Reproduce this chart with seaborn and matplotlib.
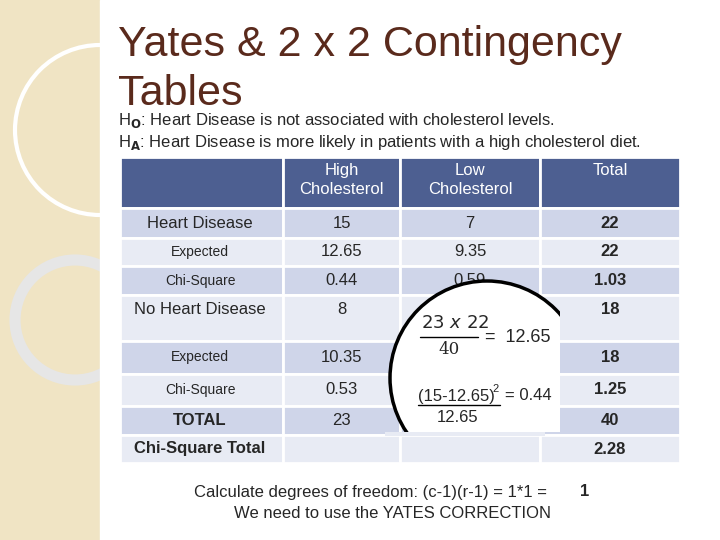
import matplotlib
matplotlib.use("Agg")
import matplotlib.pyplot as plt
import seaborn as sns
from matplotlib.patches import Rectangle, Circle

sns.set_theme(style="white")
plt.rcParams['font.family'] = ['Liberation Sans', 'DejaVu Sans']

# table data
col_labels = ["", "High\nCholesterol", "Low\nCholesterol", "Total"]
row_labels = ["Heart Disease", "Expected", "Chi-Square", "No Heart Disease",
              "Expected", "Chi-Square", "TOTAL", "Chi-Square Total"]
high_vals = ["15", "12.65", "0.44", "8", "10.35", "0.53", "23", ""]
low_vals = ["7", "9.35", "0.59", "", "", "", "", ""]
total_vals = ["22", "22", "1.03", "18", "18", "1.25", "40", "2.28"]

col_edges = [120, 283, 400, 540, 680]
row_edges = [157, 208, 238, 266, 295, 341, 374, 406, 435, 463]

fig = plt.figure(figsize=(7.2, 5.4), dpi=100)
ax = fig.add_axes([0, 0, 1, 1])
ax.set_xlim(0, 720)
ax.set_ylim(540, 0)
ax.axis("off")

# left decoration
ax.add_patch(Rectangle((0, 0), 100, 540, color="#f0e4c4", zorder=0))
ax.add_patch(Circle((100, 130), 85, fill=False, ec="white", lw=3, zorder=1))
ax.add_patch(Circle((75, 320), 60, fill=False, ec="#e6e6e6", lw=8, zorder=1))
ax.add_patch(Rectangle((100, 0), 620, 540, color="white", zorder=1))

ax.text(118, 45, "Yates & 2 x 2 Contingency", fontsize=31, color="#5a2a1c", va="center")
ax.text(118, 94, "Tables", fontsize=31, color="#5a2a1c", va="center")
ax.text(118, 120, r"H$_\mathbf{O}$: Heart Disease is not associated with cholesterol levels.",
        fontsize=12, va="center")
ax.text(118, 143, r"H$_\mathbf{A}$: Heart Disease is more likely in patients with a high cholesterol diet.",
        fontsize=12, va="center")

header_col = "#4d5f91"
band = ["#cfd5e9", "#e8ebf4"]

for j in range(4):
    x0, x1 = col_edges[j], col_edges[j + 1]
    y0, y1 = row_edges[0], row_edges[1]
    ax.add_patch(Rectangle((x0, y0), x1 - x0, y1 - y0, fc=header_col, ec="white", lw=2, zorder=2))
    if col_labels[j]:
        ax.text((x0 + x1) / 2, y0 + 6, col_labels[j], ha="center", va="top", fontsize=12,
                color="white", zorder=3, linespacing=1.3)

for i, lab in enumerate(row_labels):
    y0, y1 = row_edges[i + 1], row_edges[i + 2]
    fc = band[i % 2]
    for j in range(4):
        x0, x1 = col_edges[j], col_edges[j + 1]
        ax.add_patch(Rectangle((x0, y0), x1 - x0, y1 - y0, fc=fc, ec="white", lw=2, zorder=2))
    yc = (y0 + y1) / 2
    small = lab in ("Expected", "Chi-Square")
    bold = lab in ("TOTAL", "Chi-Square Total")
    ty = yc if lab != "No Heart Disease" else y0 + 15
    ax.text(200, ty, lab, ha="center", va="center",
            fontsize=10 if small else 12, fontweight="bold" if bold else "normal", zorder=3)
    for j, vals in ((1, high_vals), (2, low_vals), (3, total_vals)):
        if vals[i]:
            x0, x1 = col_edges[j], col_edges[j + 1]
            ax.text((x0 + x1) / 2, ty, vals[i], ha="center", va="center", fontsize=12,
                    fontweight="bold" if j == 3 else "normal", zorder=3)

# overlay bubble, cut off at the bottom like the pasted picture
bubble = Circle((487, 378), 97, fc="white", ec="black", lw=2.5, zorder=4)
ax.add_patch(bubble)
clip = Rectangle((380, 270), 180, 162, transform=ax.transData)
bubble.set_clip_path(clip)
ax.add_patch(Rectangle((385, 432), 160, 4, fc=band[1], ec="none", zorder=4.5))
ax.text(455, 323, r"$23\ x\ 22$", ha="center", va="center", fontsize=13, zorder=5)
ax.plot([420, 478], [337, 337], color="black", lw=1, zorder=5)
ax.text(449, 350, "40", ha="center", va="center", fontsize=12, zorder=5, family="DejaVu Serif")
ax.text(485, 337, "=  12.65", ha="left", va="center", fontsize=13, zorder=5)
ax.text(418, 396, "(15-12.65)", ha="left", va="center", fontsize=12, zorder=5)
ax.text(492, 389, "2", ha="left", va="center", fontsize=8, zorder=5)
ax.plot([418, 500], [405, 405], color="black", lw=1, zorder=5)
ax.text(458, 417, "12.65", ha="center", va="center", fontsize=12, zorder=5)
ax.text(505, 396, "= 0.44", ha="left", va="center", fontsize=12, zorder=5)

ax.text(194, 492, "Calculate degrees of freedom: (c-1)(r-1) = 1*1 = ", ha="left", va="center", fontsize=12)
ax.text(589, 492, "1", ha="right", va="center", fontsize=12, fontweight="bold")
ax.text(392, 514, "We need to use the YATES CORRECTION", ha="center", va="center", fontsize=12)

fig.savefig("out.png", dpi=100)
